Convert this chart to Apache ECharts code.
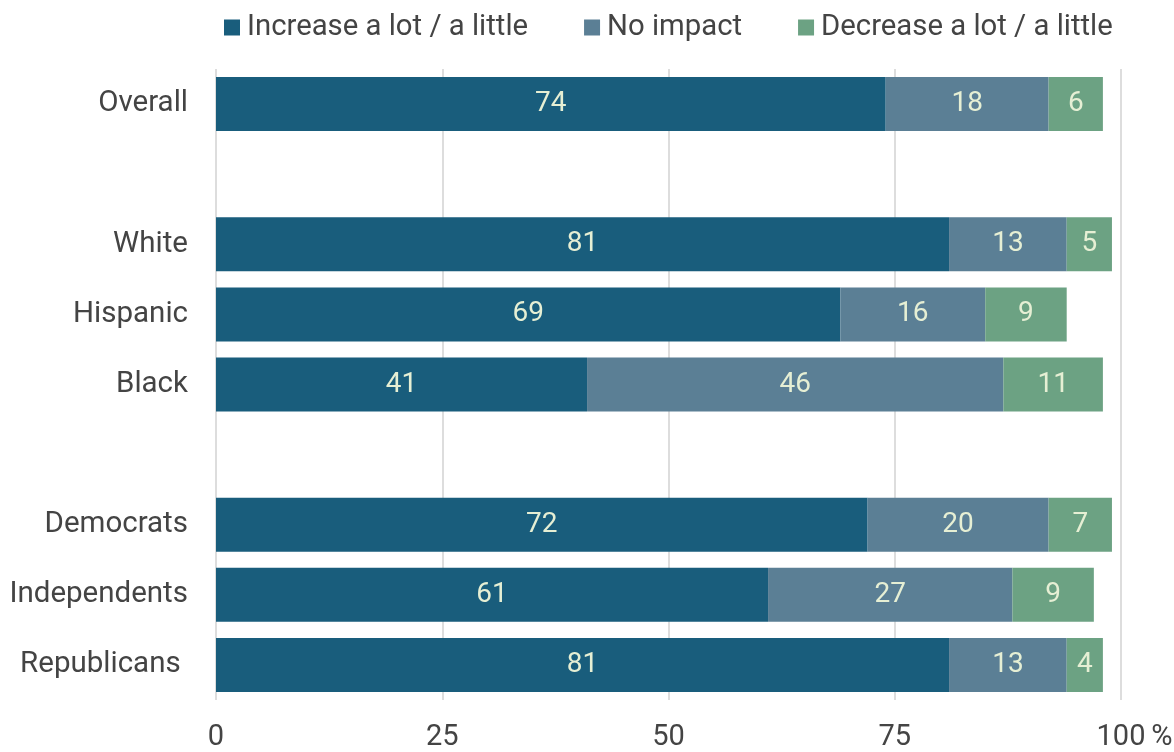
<!DOCTYPE html>
<html><head><meta charset="utf-8">
<script src="https://cdn.jsdelivr.net/npm/echarts@6/dist/echarts.min.js"></script>
<style>html,body{margin:0;padding:0;background:#fff}#c{width:1174px;height:752px}</style>
</head><body><div id="c"></div>
<script>
const categories = ['Overall', ' ', 'White', 'Hispanic', 'Black', '  ', 'Democrats', 'Independents', 'Republicans '];
const increase = [74, '-', 81, 69, 41, '-', 72, 61, 81];
const noImpact = [18, '-', 13, 16, 46, '-', 20, 27, 13];
const decrease = [6, '-', 5, 9, 11, '-', 7, 9, 4];
const xTicks = [0, 25, 50, 75, 100];
const seriesNames = ['Increase a lot / a little', 'No impact', 'Decrease a lot / a little'];
const colors = ['#195d7c', '#5b7f95', '#6ca283'];

const chart = echarts.init(document.getElementById('c'), null, {renderer: 'canvas'});
const font = 'Roboto';
const mk = (name, data, color) => ({
  name, type: 'bar', stack: 'all', data, barCategoryGap: '23%',
  itemStyle: {color},
  label: {show: true, position: 'inside', color: '#e6efd4', fontSize: 28, fontFamily: font, padding: [6, 0, 0, 0]},
  emphasis: {disabled: true}
});
chart.setOption({
  animation: false,
  textStyle: {fontFamily: font},
  legend: {
    top: 8, left: 219, itemWidth: 16, itemHeight: 16, itemGap: 56,
    icon: 'rect',
    textStyle: {fontSize: 29.3, color: '#444', fontFamily: font, padding: [0, 0, 0, 2]},
    data: seriesNames
  },
  grid: {left: 216, right: 53, top: 69, bottom: 52, containLabel: false, outerBoundsMode: 'none'},
  xAxis: {
    type: 'value', min: xTicks[0], max: xTicks[xTicks.length - 1], interval: 25,
    axisLine: {show: false}, axisTick: {show: false},
    splitLine: {show: true, lineStyle: {color: '#dddddd', width: 2}},
    axisLabel: {fontSize: 29, color: '#444', margin: 23, fontFamily: font},
    name: '%', nameLocation: 'end', nameGap: 27,
    nameTextStyle: {fontSize: 29, color: '#444', fontFamily: font, verticalAlign: 'top', padding: [23, 0, 0, 0]}
  },
  yAxis: {
    type: 'category', data: categories, inverse: true,
    axisLine: {show: false}, axisTick: {show: false},
    axisLabel: {fontSize: 29.5, color: '#444', margin: 28, fontFamily: font, padding: [6, 0, 0, 0]}
  },
  series: [mk(seriesNames[0], increase, colors[0]), mk(seriesNames[1], noImpact, colors[1]), mk(seriesNames[2], decrease, colors[2])]
});
</script></body></html>
